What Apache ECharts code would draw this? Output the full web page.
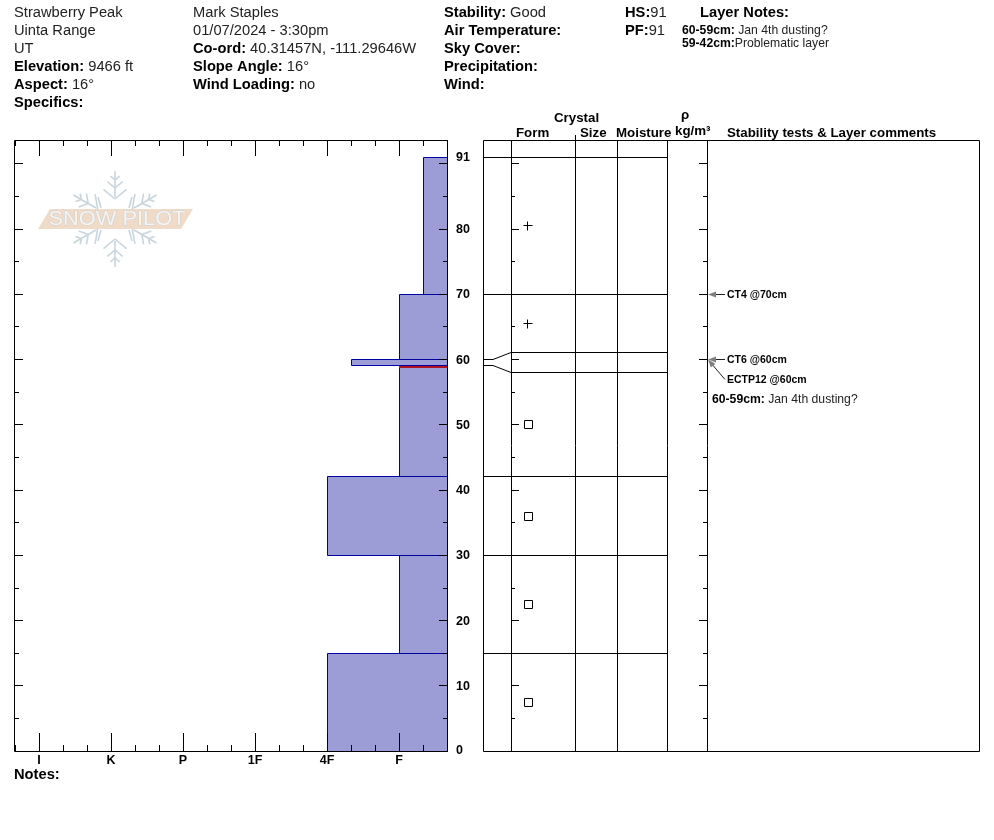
<!DOCTYPE html>
<html><head><meta charset="utf-8">
<script src="https://cdn.jsdelivr.net/npm/echarts@6/dist/echarts.min.js"></script>
<style>html,body{margin:0;padding:0;background:#fff}#c{width:994px;height:840px}</style></head>
<body><div id="c"></div>
<script>
// ---- data ----
const layerTops    = [91, 70, 60, 59, 42, 30, 15];
const layerBottoms = [70, 60, 59, 42, 30, 15, 0];
const layerHardness = [17, 16, 14, 16, 13, 16, 13];
const hardnessTicks = [1, 4, 7, 10, 13, 16];
const hardnessLabels = ['I', 'K', 'P', '1F', '4F', 'F'];
const depthLabels = [0, 10, 20, 30, 40, 50, 60, 70, 80, 91];
const depthMajor = [0, 10, 20, 30, 40, 50, 60, 70, 80, 90];
const depthMinor = [5, 15, 25, 35, 45, 55, 65, 75, 85];
const problemLayer = [59];
const boundaryDepths  = [91, 70, 60, 59, 42, 30, 15];
const boundaryDrawn   = [91, 70, 61.1, 58, 42, 30, 15];
const columnEdges = [28, 92, 134, 184, 224];
const plusDepths = [80.5, 65.5];
const squareDepths = [50, 36, 22.4, 7.4];
const sizeDepths = [50, 22.4];
const sizeLabels = ['2-3', '3-4'];
const testNames = ['CT4 @70cm', 'CT6 @60cm', 'ECTP12 @60cm'];
const testDepths = [70, 60, 60];
const testLabelDepths = [70, 60, 56.9];

// ---- layout ----
const FONT = '"Liberation Sans", Arial, sans-serif';
const G1 = {left: 15, top: 140, width: 432, height: 611};
const G2 = {left: 483, top: 140, width: 496, height: 611};
const YMAX = 611 / (594 / 91);
const px = v => Math.round(v - 0.5) + 0.5;

function yAx(grid, position, offset, values, len, labels) {
  return {
    type: 'value', gridIndex: grid, position, offset, min: 0, max: YMAX, z: 6,
    axisLine: {show: false, onZero: false}, splitLine: {show: false}, minorTick: {show: false},
    axisTick: {show: true, inside: true, length: len, customValues: values, lineStyle: {color: '#000', width: 1}},
    axisLabel: labels ? {show: true, customValues: depthLabels.map(d => d > 0 ? d - 0.12 : d), formatter: v => String(Math.round(v)),
                         margin: 9, color: '#000', fontFamily: FONT, fontWeight: 'bold', fontSize: 12.5}
                      : {show: false}
  };
}
function xAx(grid, position, values, len, labels) {
  return {
    type: 'value', gridIndex: grid, position, min: 0, max: grid === 0 ? 18 : 496, z: 6,
    axisLine: {show: false, onZero: false}, splitLine: {show: false},
    axisTick: values ? {show: true, inside: true, length: len, customValues: values, lineStyle: {color: '#000', width: 1}} : {show: false},
    axisLabel: labels ? {show: true, customValues: hardnessTicks, margin: 3, color: '#000', fontFamily: FONT, fontWeight: 'bold', fontSize: 12.5,
                         formatter: v => hardnessLabels[hardnessTicks.indexOf(v)]}
                      : {show: false}
  };
}
const allSteps = []; for (let k = 0; k <= 18; k++) allSteps.push(k);

const xAxis = [
  xAx(0, 'top', hardnessTicks, 16, false),
  xAx(0, 'top', allSteps, 6, false),
  xAx(0, 'bottom', hardnessTicks, 18, true),
  xAx(0, 'bottom', allSteps, 6, false),
  xAx(1, 'bottom', null, 0, false)
];
const yAxis = [
  yAx(0, 'left', 0, depthMajor, 8, false),
  yAx(0, 'left', 0, depthMinor, 4, false),
  yAx(0, 'right', 0, depthMajor, 8, true),
  yAx(0, 'right', 0, depthMinor, 4, false),
  yAx(1, 'left', -28, depthMajor, 8, false),
  yAx(1, 'left', -28, depthMinor, 4, false),
  yAx(1, 'right', -272, depthMajor, 8, false),
  yAx(1, 'right', -272, depthMinor, 4, false)
];

// ---- logo ----
function snowflake(cx, cy) {
  const out = [], col = '#c9d5dc';
  const seg = (x1, y1, x2, y2, w) => out.push({type: 'line', silent: true, z: 1,
    shape: {x1, y1, x2, y2}, style: {stroke: col, lineWidth: w || 1.6}});
  for (let d = 0; d < 6; d++) {
    const a = (90 + d * 60) * Math.PI / 180, ux = Math.cos(a), uy = -Math.sin(a);
    seg(cx + ux * 22, cy + uy * 22, cx + ux * 48, cy + uy * 48);
    [[20, 15], [31, 10], [39, 6]].forEach(([r, l]) => {
      [-50, 50].forEach(s => {
        const b = a + s * Math.PI / 180;
        seg(cx + ux * r, cy + uy * r, cx + ux * r + Math.cos(b) * l, cy + uy * r - Math.sin(b) * l);
      });
    });
  }
  [[-17, -22, -14, -11], [17, -22, 14, -11], [-17, 22, -14, 11], [17, 22, 14, 11]].forEach(p =>
    seg(cx + p[0], cy + p[1], cx + p[2], cy + p[3]));
  return out;
}
const logo = snowflake(115, 219).concat([
  {type: 'polygon', silent: true, z: 2, shape: {points: [[50, 209], [193, 209], [181, 229], [38, 229]]},
   style: {fill: '#f0dbc8'}},
  {type: 'text', silent: true, z: 3, x: 117, y: 219.5, scaleX: 1.04,
   style: {text: 'SNOW PILOT', font: '21px ' + FONT, fill: '#f7f3ef', stroke: '#c9cfd4', lineWidth: 1,
           textAlign: 'center', textVerticalAlign: 'middle'}}
]);

// ---- text ----
const rich = (fs) => ({b: {fontFamily: FONT, fontWeight: 'bold', fontSize: fs, fill: '#000', color: '#000'},
                       r: {fontFamily: FONT, fontSize: fs, fill: '#222', color: '#222'}});
function T(x, y, text, fs, opts) {
  return Object.assign({type: 'text', silent: true, z: 10, x, y,
    style: {text, fill: '#000', rich: rich(fs || 14), font: (fs || 14) + 'px ' + FONT, textVerticalAlign: 'middle'}}, opts || {});
}
const header = [
  ['{r|Strawberry Peak}', 14, 12.5], ['{r|Uinta Range}', 14, 30.5], ['{r|UT}', 14, 48.5],
  ['{b|Elevation:} {r|9466 ft}', 14, 66.5], ['{b|Aspect:} {r|16°}', 14, 84.5], ['{b|Specifics:}', 14, 102.5],
  ['{r|Mark Staples}', 193, 12.5], ['{r|01/07/2024 - 3:30pm}', 193, 30.5],
  ['{b|Co-ord:} {r|40.31457N, -111.29646W}', 193, 48.5], ['{b|Slope Angle:} {r|16°}', 193, 66.5],
  ['{b|Wind Loading:} {r|no}', 193, 84.5],
  ['{b|Stability:} {r|Good}', 444, 12.5], ['{b|Air Temperature:}', 444, 30.5], ['{b|Sky Cover:}', 444, 48.5],
  ['{b|Precipitation:}', 444, 66.5], ['{b|Wind:}', 444, 84.5],
  ['{b|HS:}{r|91}', 625, 12.5], ['{b|PF:}{r|91}', 625, 30.5], ['{b|Layer Notes:}', 700, 12.5],
  ['{b|Notes:}', 14, 774.5]
].map(h => T(h[1], h[2], h[0], 14.7));
const small = [
  ['{b|60-59cm:} {r|Jan 4th dusting?}', 682, 31], ['{b|59-42cm:}{r|Problematic layer}', 682, 44],
  ['{b|60-59cm:} {r|Jan 4th dusting?}', 712, 400]
].map(h => T(h[1], h[2], h[0], 12.2));
const heads = [
  ['Crystal', 554, 118], ['Form', 516, 133], ['Size', 580, 133], ['Moisture', 616, 133],
  ['ρ', 681, 115], ['kg/m³', 675, 131], ['Stability tests & Layer comments', 727, 133]
].map(h => T(h[1], h[2], h[0], 13, {style: {text: h[0], fill: '#000', font: 'bold 13.3px ' + FONT, textVerticalAlign: 'middle'}}));
const frames = [
  {type: 'rect', silent: true, z: 9, shape: {x: 14.5, y: 140.5, width: 433, height: 611}, style: {fill: 'transparent', stroke: '#000', lineWidth: 1}},
  {type: 'rect', silent: true, z: 9, shape: {x: 483.5, y: 140.5, width: 496, height: 611}, style: {fill: 'transparent', stroke: '#000', lineWidth: 1}},
  {type: 'line', silent: true, z: 10, shape: {x1: 575.5, y1: 135, x2: 575.5, y2: 140}, style: {stroke: '#000', lineWidth: 1}}
];

// ---- series ----
const layerData = layerTops.map((t, i) => [layerHardness[i], t, layerBottoms[i]]);
const series = [
  {type: 'custom', name: 'Hardness profile', xAxisIndex: 0, yAxisIndex: 0, z: 2, silent: true,
   data: layerData,
   renderItem(p, api) {
     const a = api.coord([api.value(0), api.value(1)]), b = api.coord([18, api.value(2)]);
     const x = px(a[0]), y = px(a[1]), y2 = px(b[1]);
     return {type: 'rect', shape: {x, y, width: px(b[0]) - x, height: y2 - y},
             style: {fill: '#9c9cd6', stroke: '#0000a0', lineWidth: 1}};
   }},
  {type: 'custom', name: 'Problem layer', xAxisIndex: 0, yAxisIndex: 0, z: 3, silent: true,
   data: problemLayer,
   renderItem(p, api) {
     const a = api.coord([16, api.value(0)]), b = api.coord([18, api.value(0)]);
     return {type: 'line', shape: {x1: a[0], y1: Math.round(a[1]) + 1, x2: b[0], y2: Math.round(a[1]) + 1},
             style: {stroke: '#b01020', lineWidth: 2}};
   }},
  {type: 'custom', name: 'Column edges', xAxisIndex: 4, yAxisIndex: 4, z: 2, silent: true,
   data: columnEdges,
   renderItem(p, api) {
     const a = api.coord([api.value(0), 0]), b = api.coord([api.value(0), YMAX]);
     return {type: 'line', shape: {x1: px(a[0]), y1: a[1], x2: px(a[0]), y2: b[1]}, style: {stroke: '#000', lineWidth: 1}};
   }},
  {type: 'custom', name: 'Layer boundaries', xAxisIndex: 4, yAxisIndex: 4, z: 2, silent: true,
   data: boundaryDepths.map((d, i) => [d, boundaryDrawn[i]]),
   renderItem(p, api) {
     const d = api.value(0), e = api.value(1);
     const p0 = api.coord([0, d]), p1 = api.coord([10, d]), p2 = api.coord([28, e]), p3 = api.coord([184, e]);
     const pts = [[p0[0], px(p0[1])], [p1[0], px(p1[1])], [p2[0], px(p2[1])], [p3[0], px(p3[1])]];
     return {type: 'polyline', shape: {points: pts}, style: {stroke: '#000', lineWidth: 1, fill: null}};
   }},
  {type: 'custom', name: 'Form +', xAxisIndex: 4, yAxisIndex: 4, z: 3, silent: true,
   data: plusDepths.map(d => [44, d]),
   renderItem(p, api) {
     const c = api.coord([api.value(0), api.value(1)]), x = px(c[0]), y = px(c[1]);
     return {type: 'group', children: [
       {type: 'line', shape: {x1: x - 4, y1: y, x2: x + 5, y2: y}, style: {stroke: '#000', lineWidth: 1}},
       {type: 'line', shape: {x1: x, y1: y - 4, x2: x, y2: y + 5}, style: {stroke: '#000', lineWidth: 1}}
     ]};
   }},
  {type: 'custom', name: 'Form square', xAxisIndex: 4, yAxisIndex: 4, z: 3, silent: true,
   data: squareDepths.map(d => [45, d]),
   renderItem(p, api) {
     const c = api.coord([api.value(0), api.value(1)]);
     return {type: 'rect', shape: {x: px(c[0] - 4), y: px(c[1] - 4), width: 8, height: 8},
             style: {fill: '#fff', stroke: '#000', lineWidth: 1}};
   }},
  {type: 'scatter', name: 'Crystal size', xAxisIndex: 4, yAxisIndex: 4, z: 3, silent: true, symbol: 'none', symbolSize: 0,
   label: {show: true, position: 'right', distance: 0, formatter: o => sizeLabels[o.dataIndex], color: '#000',
           fontFamily: FONT, fontWeight: 'bold', fontSize: 10},
   data: sizeDepths.map(d => [96, d])},
  {type: 'custom', name: 'Stability tests', xAxisIndex: 4, yAxisIndex: 4, z: 4, silent: true,
   data: testNames.map((n, i) => [testDepths[i], testLabelDepths[i]]),
   renderItem(p, api) {
     const a = api.coord([225, api.value(0)]), b = api.coord([242, api.value(1)]);
     const ang = Math.atan2(b[1] - a[1], b[0] - a[0]), L = 8, W = 3;
     const ux = Math.cos(ang), uy = Math.sin(ang);
     return {type: 'group', children: [
       {type: 'line', shape: {x1: a[0] + ux * 6, y1: px(a[1]) + uy * 6, x2: b[0], y2: px(b[1])}, style: {stroke: '#222', lineWidth: 1}},
       {type: 'polygon', shape: {points: [[a[0], px(a[1])],
          [a[0] + ux * L - uy * W, px(a[1]) + uy * L + ux * W],
          [a[0] + ux * L + uy * W, px(a[1]) + uy * L - ux * W]]}, style: {fill: '#808080'}},
       {type: 'text', x: b[0] + 2, y: b[1] + 1, style: {text: testNames[p.dataIndex], fill: '#000',
          font: 'bold 10.5px ' + FONT, textVerticalAlign: 'middle'}}
     ]};
   }}
];

const chart = echarts.init(document.getElementById('c'), null, {renderer: 'canvas'});
chart.setOption({
  animation: false, backgroundColor: '#fff',
  grid: [G1, G2].map(g => Object.assign({show: false, containLabel: false, outerBoundsMode: 'none'}, g)),
  xAxis, yAxis, series,
  graphic: {elements: [].concat(logo, header, small, heads, frames)}
});
</script></body></html>
